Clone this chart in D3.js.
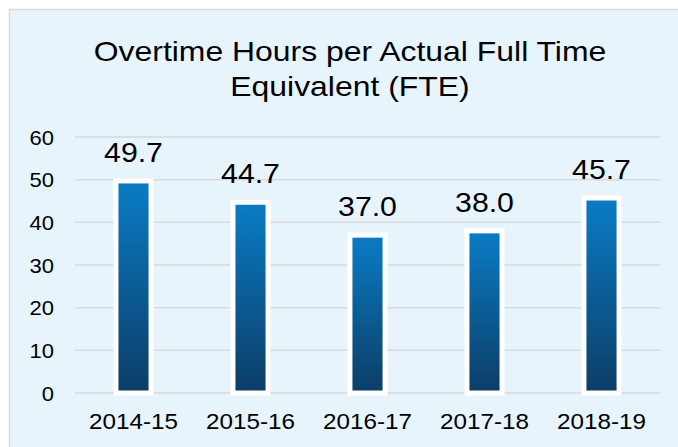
<!DOCTYPE html>
<html><head><meta charset="utf-8">
<script src="https://cdn.jsdelivr.net/npm/d3@7"></script>
<style>html,body{margin:0;padding:0;background:#fff;}svg{display:block;}</style>
</head><body>
<script>
const categories = ["2014-15","2015-16","2016-17","2017-18","2018-19"];
const values = [49.7, 44.7, 37.0, 38.0, 45.7];
const valueLabels = ["49.7","44.7","37.0","38.0","45.7"];
const yTicks = [0,10,20,30,40,50,60];
const titleLines = ["Overtime Hours per Actual Full Time","Equivalent (FTE)"];

const W = 678, H = 447;
const font = "'Liberation Sans', Arial, sans-serif";
const sx = 1.1;
const svg = d3.select("body").append("svg").attr("width", W).attr("height", H);

const defs = svg.append("defs");
const grad = defs.append("linearGradient").attr("id","barGrad").attr("x1",0).attr("y1",0).attr("x2",0).attr("y2",1);
grad.append("stop").attr("offset","0%").attr("stop-color","#0a7cc5");
grad.append("stop").attr("offset","100%").attr("stop-color","#0c3d66");

svg.append("rect").attr("x",9.5).attr("y",9.5).attr("width",W).attr("height",H)
  .attr("fill","#e8f4fb").attr("stroke","#d9d9d9").attr("stroke-width",1.5);

const x = d3.scaleBand().domain(categories).range([75,660]).paddingInner(0.7).paddingOuter(0.35);
const y = d3.scaleLinear().domain([0,60]).range([393,137]);

function stext(g, txt, tx, ty, size, anchor, scl){
  return g.append("text").attr("transform",`translate(${tx},${ty}) scale(${scl||sx},1)`)
    .attr("text-anchor",anchor).attr("font-family",font).attr("font-size",size)
    .attr("fill","#000").text(txt);
}

// title
const tg = svg.append("g");
titleLines.forEach((t,i)=> stext(tg, t, 350, 61 + i*35, 28.5, "middle", 1.12));

// gridlines
svg.append("g").selectAll("line").data(yTicks).join("line")
  .attr("x1",75).attr("x2",660).attr("y1",d=>y(d)).attr("y2",d=>y(d))
  .attr("stroke","#d9d9d9").attr("stroke-width",1.5);

// y axis labels via axis
const yAxis = svg.append("g").attr("transform","translate(54,0)")
  .call(d3.axisLeft(y).tickValues(yTicks).tickSize(0).tickPadding(0));
yAxis.select(".domain").remove();
yAxis.selectAll("text").attr("font-family",font).attr("font-size",20).attr("fill","#000")
  .attr("transform",`scale(${sx},1)`).attr("x",0).attr("dy","0.36em");

// x axis labels
const xAxis = svg.append("g").attr("transform","translate(0,413)")
  .call(d3.axisBottom(x).tickSize(0).tickPadding(0));
xAxis.select(".domain").remove();
xAxis.selectAll("text").attr("font-family",font).attr("font-size",22).attr("fill","#000")
  .attr("transform",`scale(${sx},1)`).attr("dy","0.71em").attr("y",0);

// bars
const bw = x.bandwidth();
svg.append("g").selectAll("rect").data(values).join("rect")
  .attr("x",(d,i)=>x(categories[i])).attr("width",bw)
  .attr("y",d=>y(d)).attr("height",d=>y(0)-y(d))
  .attr("fill","url(#barGrad)").attr("stroke","#fff").attr("stroke-width",5);

// value labels
const lg = svg.append("g");
values.forEach((v,i)=> stext(lg, valueLabels[i], x(categories[i])+bw/2, y(v)-19, 27.5, "middle"));
</script>
</body></html>
